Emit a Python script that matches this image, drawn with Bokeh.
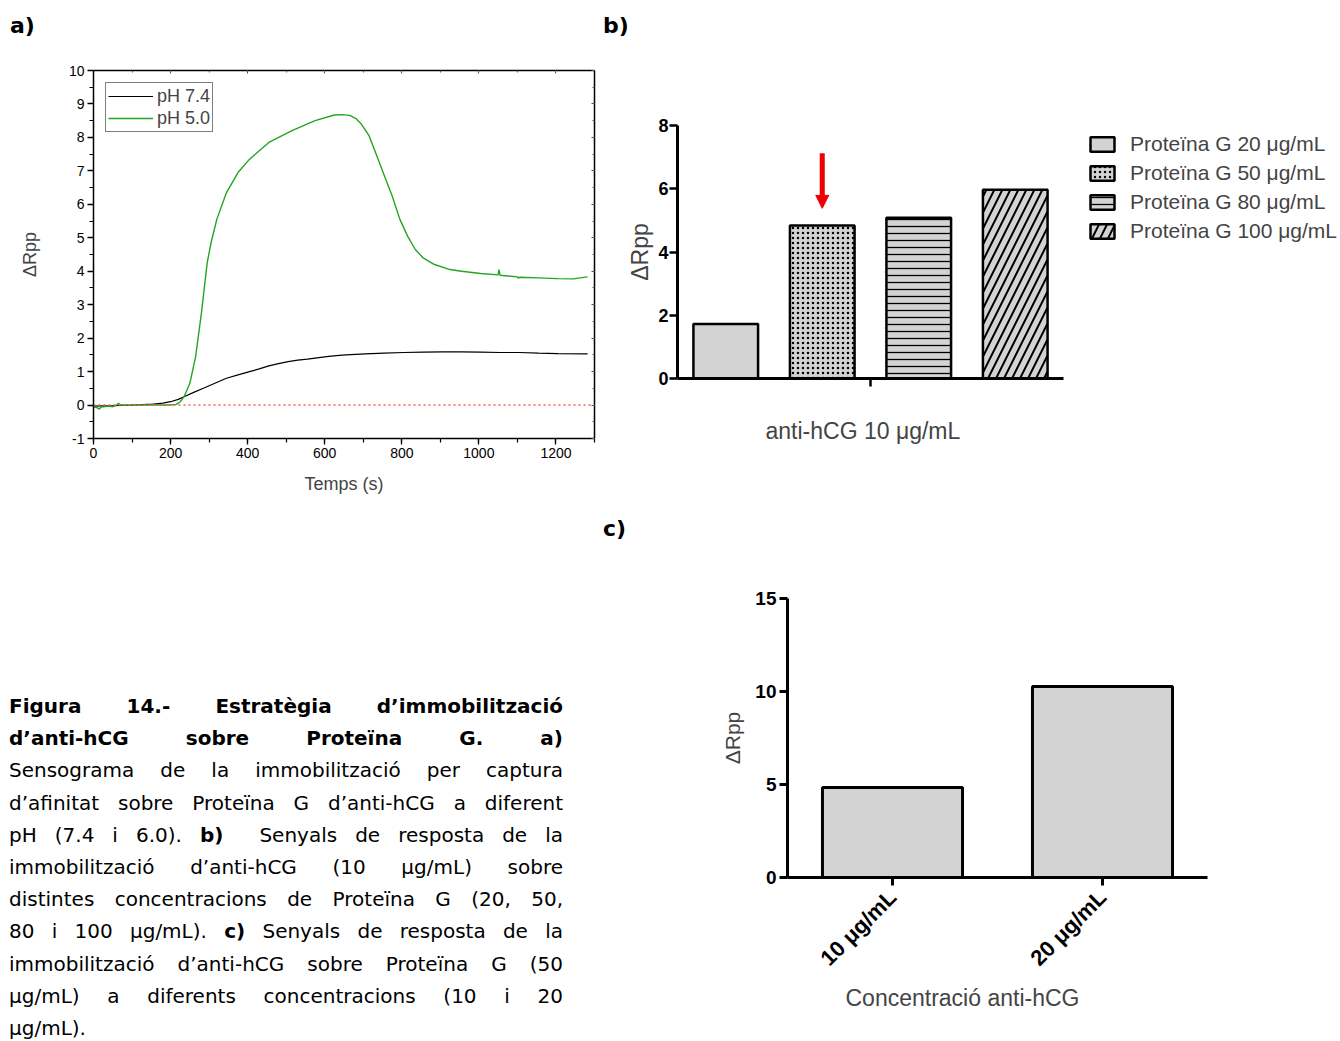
from math import pi
from bokeh.plotting import figure
from bokeh.models import (Range1d, FactorRange, LinearAxis, FixedTicker, SingleIntervalTicker,
                          Legend, LegendItem, Span, Title, Arrow, NormalHead, Div, ColumnDataSource,
                          PrintfTickFormatter, CustomJSTickFormatter)
from bokeh.layouts import row, column
from bokeh.embed import file_html
from bokeh.resources import INLINE

# ---------------- data: panel a (sensogram) ----------------
t_ph74 = [0, 50, 100, 155, 180, 200, 220, 235, 260, 285, 315, 345, 375, 405, 430, 455, 480, 505,
          530, 555, 580, 605, 630, 655, 705, 755, 805, 855, 905, 955, 1005, 1055, 1105, 1155, 1205, 1282]
r_ph74 = [-0.03, -0.02, 0.0, 0.03, 0.06, 0.1, 0.17, 0.25, 0.38, 0.5, 0.65, 0.8, 0.9, 1.0, 1.08, 1.17,
          1.24, 1.3, 1.34, 1.37, 1.41, 1.45, 1.48, 1.5, 1.53, 1.55, 1.57, 1.58, 1.59, 1.59, 1.58, 1.57,
          1.57, 1.55, 1.54, 1.53]
t_ph50 = [0, 10, 15, 20, 40, 50, 60, 65, 70, 100, 150, 200, 215, 225, 235, 250, 265, 280, 295, 305,
          320, 345, 375, 405, 455, 515, 575, 625, 645, 665, 680, 695, 715, 735, 755, 775, 795, 815,
          835, 855, 885, 925, 955, 1005, 1050, 1052, 1055, 1100, 1102, 1105, 1155, 1205, 1245, 1282]
r_ph50 = [-0.05, -0.08, -0.12, -0.06, -0.03, -0.05, 0.0, 0.05, 0.0, 0.0, 0.0, 0.0, 0.02, 0.1, 0.25,
          0.65, 1.45, 2.75, 4.25, 4.85, 5.55, 6.35, 6.95, 7.35, 7.85, 8.2, 8.5, 8.67, 8.68, 8.66, 8.57,
          8.4, 8.05, 7.45, 6.85, 6.25, 5.55, 5.05, 4.65, 4.4, 4.2, 4.05, 4.0, 3.93, 3.89, 4.05, 3.88,
          3.83, 3.79, 3.82, 3.8, 3.78, 3.77, 3.83]
series_a = ["pH 7.4", "pH 5.0"]
a_xlabel = "Temps (s)"
y_label = "ΔRpp"

# ---------------- data: panel b ----------------
b_labels = ["Proteïna G 20 μg/mL", "Proteïna G 50 μg/mL", "Proteïna G 80 μg/mL", "Proteïna G 100 μg/mL"]
b_values = [1.72, 4.84, 5.08, 5.97]
b_xlabel = "anti-hCG 10 μg/mL"
b_arrow_bar = 1          # the arrow points at the second bar
b_arrow_from = 7.12
b_arrow_to = 5.38

# ---------------- data: panel c ----------------
c_categories = ["10 μg/mL", "20 μg/mL"]
c_values = [4.84, 10.27]
c_xlabel = "Concentració anti-hCG"

panel_tags = ["a)", "b)", "c)"]

# ---------------- caption ----------------
caption_lines = [
    "<b>Figura 14.- Estratègia d’immobilització</b>",
    "<b>d’anti-hCG sobre Proteïna G. a)</b>",
    "Sensograma de la immobilització per captura",
    "d’afinitat sobre Proteïna G d’anti-hCG a diferent",
    "pH (7.4 i 6.0). <b>b)</b>&nbsp; Senyals de resposta de la",
    "immobilització d’anti-hCG (10 µg/mL) sobre",
    "distintes concentracions de Proteïna G (20, 50,",
    "80 i 100 µg/mL). <b>c)</b> Senyals de resposta de la",
    "immobilització d’anti-hCG sobre Proteïna G (50",
    "µg/mL) a diferents concentracions (10 i 20",
    "µg/mL).",
]

# ---------------- styles ----------------
FONT = "Liberation Sans"
b_hatch = [" ", "dot", "horizontal_line", "right_diagonal_line"]
b_hatch_scale = [6, 5, 7, 16]
b_hatch_weight = [1, 0.6, 1.3, 2]
EMPTY = CustomJSTickFormatter(code="return ''")
TAG_CSS = "position:absolute;font-family:'DejaVu Sans';font-weight:bold;font-size:22px;line-height:22px;color:#000;"

# ======================= tag strips =======================
strip_ab = Div(text=(f'<div style="position:relative;width:1338px;height:40px;">'
                     f'<span style="{TAG_CSS}left:10px;top:15px;">{panel_tags[0]}</span>'
                     f'<span style="{TAG_CSS}left:603px;top:15px;">{panel_tags[1]}</span></div>'),
               width=1338, height=40, margin=0)
strip_c = Div(text=(f'<div style="position:relative;width:1338px;height:40px;">'
                    f'<span style="{TAG_CSS}left:603px;top:8px;">{panel_tags[2]}</span></div>'),
              width=1338, height=40, margin=0)

# ======================= panel a =======================
pa = figure(width=600, height=470, x_range=Range1d(0, 1300), y_range=Range1d(-1, 10),
            output_backend="svg", toolbar_location=None, frame_align=False,
            min_border_left=93, min_border_right=6, min_border_top=30, min_border_bottom=72)
pa.grid.visible = False
pa.outline_line_color = None

pa.add_layout(Span(location=0, dimension="width", line_color="#ff5a5a", line_dash="2 3", line_width=1.5))
la = pa.line(t_ph74, r_ph74, line_color="black", line_width=1.2)
lb = pa.line(t_ph50, r_ph50, line_color="#22a622", line_width=1.4)

xa = pa.xaxis[0]
ya = pa.yaxis[0]
xa.ticker = SingleIntervalTicker(interval=200, num_minor_ticks=2)
ya.ticker = SingleIntervalTicker(interval=1, num_minor_ticks=2)
ya.formatter = PrintfTickFormatter(format="%d")
for ax in (xa, ya):
    ax.axis_line_width = 1.5
    ax.axis_line_color = "black"
    ax.major_tick_in = 0
    ax.major_tick_out = 6
    ax.minor_tick_in = 0
    ax.minor_tick_out = 4
    ax.major_tick_line_width = 1.3
    ax.minor_tick_line_width = 1.2
    ax.major_label_text_font = FONT
    ax.major_label_text_font_size = "14px"
    ax.major_label_text_color = "black"
    ax.axis_label_text_font = FONT
    ax.axis_label_text_font_size = "18px"
    ax.axis_label_text_font_style = "normal"
    ax.major_label_standoff = 3
xa.axis_label = a_xlabel
ya.axis_label = y_label
xa.axis_label_standoff = 13
ya.axis_label_standoff = 26

top_ax = LinearAxis(ticker=SingleIntervalTicker(interval=200, num_minor_ticks=2), formatter=EMPTY)
right_ax = LinearAxis(ticker=SingleIntervalTicker(interval=1, num_minor_ticks=2), formatter=EMPTY)
for ax in (top_ax, right_ax):
    ax.axis_line_width = 1.5
    ax.axis_line_color = "black"
    ax.major_tick_in = 3
    ax.major_tick_out = 0
    ax.minor_tick_in = 2
    ax.minor_tick_out = 0
    ax.major_tick_line_color = "#555555"
    ax.minor_tick_line_color = "#555555"
    ax.major_label_text_color = None
    ax.major_label_standoff = 0
pa.add_layout(top_ax, "above")
pa.add_layout(right_ax, "right")

leg_a = Legend(items=[LegendItem(label=series_a[0], renderers=[la]),
                      LegendItem(label=series_a[1], renderers=[lb])],
               location="top_left", margin=12, padding=2, spacing=0,
               glyph_width=45, glyph_height=22, label_height=22, label_standoff=4,
               label_text_font=FONT, label_text_font_size="18px",
               border_line_color="black", border_line_width=1.2, background_fill_alpha=1)
pa.add_layout(leg_a)

# ======================= panel b =======================
B_W, B_LEFT, B_RIGHT = 739, 77, 0
b_frame_w = B_W - B_LEFT - B_RIGHT
b_px_per_bar = 96.5
pb = figure(width=B_W, height=470, x_range=Range1d(0, b_frame_w / b_px_per_bar), y_range=Range1d(0, 8),
            output_backend="svg", toolbar_location=None, frame_align=False,
            min_border_left=B_LEFT, min_border_right=B_RIGHT, min_border_top=85, min_border_bottom=132)
pb.grid.visible = False
pb.outline_line_color = None
src_b = ColumnDataSource(dict(x=[i + 0.5 for i in range(len(b_values))], top=b_values,
                              hatch=b_hatch, hscale=b_hatch_scale, hweight=b_hatch_weight))
rb = pb.vbar(x="x", top="top", width=0.67, source=src_b, fill_color="#d3d3d3",
             line_color="black", line_width=2.5, hatch_pattern="hatch", hatch_color="black",
             hatch_scale="hscale", hatch_weight="hweight")
xb = pb.xaxis[0]
yb = pb.yaxis[0]
yb.ticker = FixedTicker(ticks=[0, 2, 4, 6, 8])
xb.ticker = FixedTicker(ticks=[len(b_values) / 2])
xb.bounds = (0, len(b_values))
xb.formatter = EMPTY
for ax in (xb, yb):
    ax.axis_line_width = 3
    ax.major_tick_line_width = 2.5
    ax.major_tick_in = 0
    ax.major_tick_out = 8
    ax.minor_tick_line_color = None
    ax.major_label_text_font = FONT
    ax.major_label_text_font_style = "bold"
    ax.major_label_text_font_size = "18px"
    ax.major_label_text_color = "black"
    ax.axis_label_text_font = FONT
    ax.axis_label_text_font_style = "normal"
    ax.major_label_standoff = 1
xb.major_label_text_color = None
xb.major_label_standoff = 0
yb.axis_label = y_label
yb.axis_label_text_font_size = "23px"
yb.axis_label_standoff = 2
pb.add_layout(Title(text=b_xlabel, align="left", offset=88, standoff=58,
                    text_font=FONT, text_font_style="normal", text_font_size="23px"), "below")

arrow_x = b_arrow_bar + 0.5
pb.add_layout(Arrow(end=NormalHead(size=13, fill_color="#ee0000", line_color="#ee0000"),
                    x_start=arrow_x, y_start=b_arrow_from, x_end=arrow_x, y_end=b_arrow_to,
                    line_color="#ee0000", line_width=5))

leg_b = Legend(items=[LegendItem(label=b_labels[i], renderers=[rb], index=i) for i in range(len(b_labels))],
               location=(410, 135), margin=0, padding=0, spacing=5,
               glyph_width=30, glyph_height=18, label_height=18, label_standoff=13,
               label_text_font=FONT, label_text_font_size="21px",
               border_line_color=None, background_fill_alpha=0)
pb.add_layout(leg_b)

# ======================= panel c =======================
pc = figure(width=748, height=490, x_range=FactorRange(*c_categories), y_range=Range1d(0, 15),
            output_backend="svg", toolbar_location=None, frame_align=False,
            min_border_left=197, min_border_right=131, min_border_top=48, min_border_bottom=163)
pc.grid.visible = False
pc.outline_line_color = None
pc.vbar(x=c_categories, top=c_values, width=0.667, fill_color="#d3d3d3",
        line_color="black", line_width=3)
xc = pc.xaxis[0]
yc = pc.yaxis[0]
yc.ticker = FixedTicker(ticks=[0, 5, 10, 15])
for ax in (xc, yc):
    ax.axis_line_width = 3
    ax.major_tick_line_width = 3
    ax.major_tick_in = 0
    ax.major_tick_out = 8
    ax.minor_tick_line_color = None
    ax.major_label_text_font = FONT
    ax.major_label_text_font_style = "bold"
    ax.major_label_text_font_size = "19px"
    ax.major_label_text_color = "black"
    ax.axis_label_text_font = FONT
    ax.axis_label_text_font_style = "normal"
    ax.major_label_standoff = 3
xc.major_label_orientation = pi / 4
xc.major_label_standoff = 8
xc.major_label_text_font_size = "22px"
yc.axis_label = y_label
yc.axis_label_text_font_size = "21px"
yc.axis_label_standoff = 8
pc.add_layout(Title(text=c_xlabel, align="left", offset=58, standoff=0,
                    text_font=FONT, text_font_style="normal", text_font_size="23px"), "below")

# ======================= caption =======================
line_divs = []
for i, ln in enumerate(caption_lines):
    align = "left" if i == len(caption_lines) - 1 else "justify"
    line_divs.append(f'<div style="text-align:justify;text-align-last:{align};white-space:nowrap;">{ln}</div>')
caption_html = ('<div style="font-family:\'DejaVu Sans\';font-size:20px;'
                'line-height:32.2px;color:#000;width:563px;padding-top:140px;padding-left:9px;">'
                + "".join(line_divs) + '</div>')
cap = Div(text=caption_html, width=590, height=490, margin=0)

layout = column(strip_ab, row(pa, pb), strip_c, row(cap, pc))

with open("out.html", "w") as f:
    f.write(file_html(layout, INLINE))
